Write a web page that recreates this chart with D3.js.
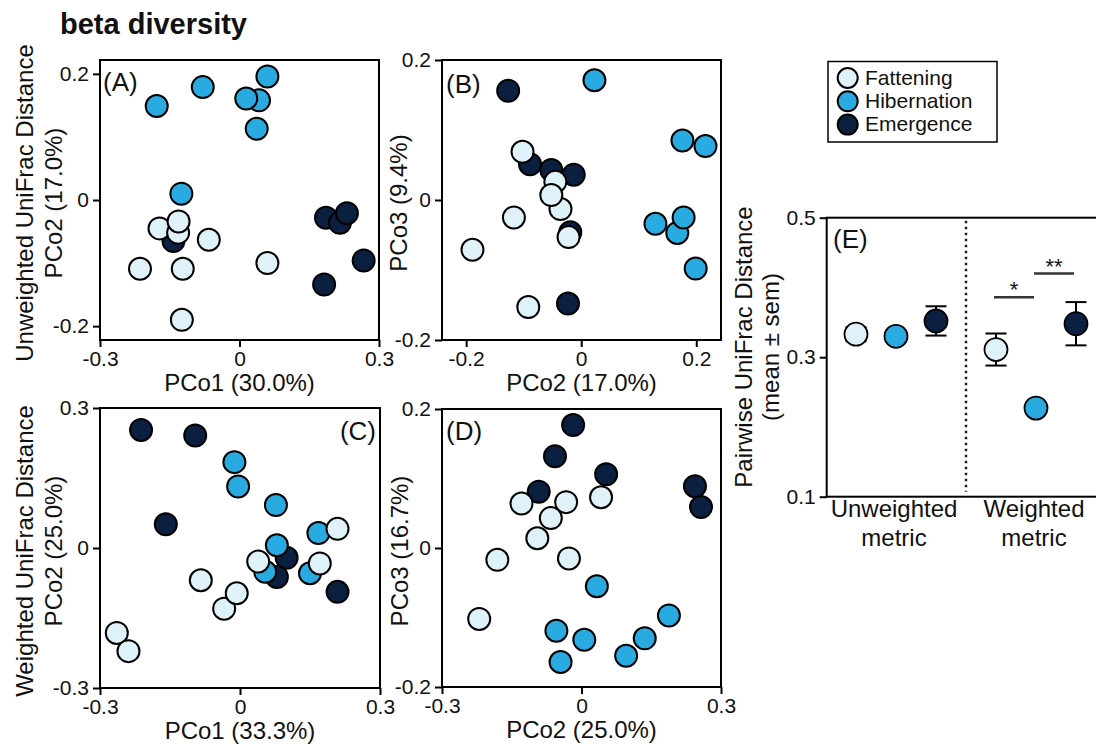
<!DOCTYPE html>
<html>
<head>
<meta charset="utf-8">
<script src="https://cdn.jsdelivr.net/npm/d3@7"></script>
<style>
  body { margin: 0; background: #fff; }
  svg text { font-family: "Liberation Sans", Arial, sans-serif; fill: #111; }
</style>
</head>
<body>
<div id="chart"></div>
<script>
// sampling phases
const phases = ["Fattening", "Hibernation", "Emergence"];

// (A) unweighted UniFrac, PCo1 vs PCo2  [x, y]
const aEmergence = [[-0.142, -0.065], [0.186, -0.028], [0.216, -0.036], [0.231, -0.021], [0.267, -0.096], [0.182, -0.134]];
const aHibernation = [[-0.178, 0.149], [-0.079, 0.179], [0.060, 0.196], [0.042, 0.158], [0.0145, 0.161], [0.037, 0.113], [-0.125, 0.010]];
const aFattening = [[-0.172, -0.045], [-0.132, -0.052], [-0.131, -0.034], [-0.066, -0.063], [-0.214, -0.109], [-0.122, -0.109], [-0.124, -0.190], [0.060, -0.100]];

// (B) unweighted UniFrac, PCo2 vs PCo3
const bEmergence = [[-0.127, 0.156], [-0.089, 0.051], [-0.052, 0.043], [-0.013, 0.036], [-0.019, -0.046], [-0.023, -0.148]];
const bHibernation = [[0.023, 0.171], [0.176, 0.085], [0.216, 0.077], [0.129, -0.034], [0.167, -0.047], [0.178, -0.025], [0.199, -0.098]];
const bFattening = [[-0.102, 0.069], [-0.045, 0.026], [-0.036, -0.013], [-0.052, 0.007], [-0.022, -0.053], [-0.117, -0.025], [-0.189, -0.071], [-0.092, -0.153]];

// (C) weighted UniFrac, PCo1 vs PCo2
const cEmergence = [[-0.212, 0.253], [-0.096, 0.241], [-0.159, 0.051], [0.100, -0.021], [0.079, -0.062], [0.209, -0.094]];
const cHibernation = [[-0.012, 0.184], [-0.004, 0.132], [0.077, 0.092], [0.054, -0.051], [0.079, 0.006], [0.168, 0.032], [0.150, -0.054]];
const cFattening = [[0.209, 0.041], [0.171, -0.033], [0.039, -0.029], [-0.084, -0.069], [-0.034, -0.130], [-0.007, -0.097], [-0.264, -0.182], [-0.239, -0.221]];

// (D) weighted UniFrac, PCo2 vs PCo3
const dEmergence = [[-0.018, 0.177], [-0.057, 0.132], [0.053, 0.106], [-0.092, 0.081], [0.244, 0.089], [0.257, 0.059]];
const dHibernation = [[0.033, -0.055], [0.188, -0.097], [-0.054, -0.119], [0.006, -0.132], [0.136, -0.130], [0.096, -0.155], [-0.045, -0.164]];
const dFattening = [[-0.129, 0.064], [-0.033, 0.066], [0.042, 0.073], [-0.066, 0.043], [-0.095, 0.014], [-0.027, -0.015], [-0.181, -0.017], [-0.220, -0.102]];

// (E) pairwise UniFrac distance, mean and sem per phase
const metrics = ["Unweighted metric", "Weighted metric"];
const unweightedMean = [0.333, 0.330, 0.352];
const unweightedSem = [0.010, 0.008, 0.021];
const weightedMean = [0.311, 0.227, 0.348];
const weightedSem = [0.023, 0.006, 0.031];
const sigBars = [
  { from: "Fattening", to: "Hibernation", y: 0.386, label: "*" },
  { from: "Hibernation", to: "Emergence", y: 0.420, label: "**" }
];

const colors = { Fattening: "#dff1f9", Hibernation: "#29abe2", Emergence: "#0b2040" };
const drawOrder = ["Emergence", "Hibernation", "Fattening"];

const svg = d3.select("#chart")
  .append("svg")
    .attr("width", 1096)
    .attr("height", 744);

svg.append("text")
  .attr("x", 60)
  .attr("y", 34)
  .style("font-size", "29px")
  .style("font-weight", "bold")
  .text("beta diversity");

const fmt = d => d === 0 ? "0" : d.toFixed(1);

const panels = [
  { tag: "(A)", tagX: 103, tagY: 91, anchor: "start",
    left: 100, top: 60, w: 279, h: 280,
    xDomain: [-0.3, 0.3], yDomain: [-0.222, 0.222],
    xTicks: [-0.3, 0, 0.3], yTicks: [-0.2, 0, 0.2],
    xLabel: "PCo1 (30.0%)", yLabel: ["Unweighted UniFrac Distance", "PCo2 (17.0%)"], yLabelX: [33, 62],
    series: { Emergence: aEmergence, Hibernation: aHibernation, Fattening: aFattening } },
  { tag: "(B)", tagX: 446, tagY: 93, anchor: "start",
    left: 442, top: 60, w: 279, h: 280,
    xDomain: [-0.242, 0.243], yDomain: [-0.2, 0.2],
    xTicks: [-0.2, 0, 0.2], yTicks: [-0.2, 0, 0.2],
    xLabel: "PCo2 (17.0%)", yLabel: ["PCo3 (9.4%)"], yLabelX: [407],
    series: { Emergence: bEmergence, Hibernation: bHibernation, Fattening: bFattening } },
  { tag: "(C)", tagX: 376, tagY: 440, anchor: "end",
    left: 100, top: 408, w: 280, h: 280,
    xDomain: [-0.3, 0.3], yDomain: [-0.3, 0.3],
    xTicks: [-0.3, 0, 0.3], yTicks: [-0.3, 0, 0.3],
    xLabel: "PCo1 (33.3%)", yLabel: ["Weighted UniFrac Distance", "PCo2 (25.0%)"], yLabelX: [33, 62],
    series: { Emergence: cEmergence, Hibernation: cHibernation, Fattening: cFattening } },
  { tag: "(D)", tagX: 446, tagY: 440, anchor: "start",
    left: 442, top: 409, w: 279, h: 278,
    xDomain: [-0.3, 0.3], yDomain: [-0.2, 0.2],
    xTicks: [-0.3, 0, 0.3], yTicks: [-0.2, 0, 0.2],
    xLabel: "PCo2 (25.0%)", yLabel: ["PCo3 (16.7%)"], yLabelX: [408],
    series: { Emergence: dEmergence, Hibernation: dHibernation, Fattening: dFattening } }
];

function styleAxis(g) {
  g.select(".domain").remove();
  g.selectAll(".tick line").attr("stroke", "#000").attr("stroke-width", 2);
  g.selectAll(".tick text").style("font-size", "21px").attr("fill", "#111");
}

function drawScatter(p) {
  const g = svg.append("g");
  const x = d3.scaleLinear().domain(p.xDomain).range([p.left, p.left + p.w]);
  const y = d3.scaleLinear().domain(p.yDomain).range([p.top + p.h, p.top]);

  g.append("g")
    .attr("transform", "translate(0," + (p.top + p.h) + ")")
    .call(d3.axisBottom(x).tickValues(p.xTicks).tickSize(7).tickPadding(4).tickFormat(fmt))
    .call(styleAxis);

  g.append("g")
    .attr("transform", "translate(" + p.left + ",0)")
    .call(d3.axisLeft(y).tickValues(p.yTicks).tickSize(7).tickPadding(4).tickFormat(fmt))
    .call(styleAxis);

  g.append("rect")
    .attr("x", p.left).attr("y", p.top)
    .attr("width", p.w).attr("height", p.h)
    .attr("fill", "none").attr("stroke", "#000").attr("stroke-width", 2);

  drawOrder.forEach(phase => {
    g.append("g")
      .selectAll("circle")
      .data(p.series[phase])
      .enter()
      .append("circle")
        .attr("cx", d => x(d[0]))
        .attr("cy", d => y(d[1]))
        .attr("r", 11)
        .attr("fill", colors[phase])
        .attr("stroke", "#000")
        .attr("stroke-width", 2);
  });

  g.append("text")
    .attr("x", p.tagX).attr("y", p.tagY)
    .attr("text-anchor", p.anchor)
    .style("font-size", "26px")
    .text(p.tag);

  g.append("text")
    .attr("x", p.left + p.w / 2)
    .attr("y", p.top + p.h + 51)
    .attr("text-anchor", "middle")
    .style("font-size", "24px")
    .text(p.xLabel);

  const cy = p.top + p.h / 2 + 3;
  p.yLabel.forEach((line, i) => {
    g.append("text")
      .attr("transform", "translate(" + p.yLabelX[i] + "," + cy + ") rotate(-90)")
      .attr("text-anchor", "middle")
      .style("font-size", "24px")
      .text(line);
  });
}

panels.forEach(drawScatter);

// Legend
const legend = svg.append("g");
legend.append("rect")
  .attr("x", 828).attr("y", 61.5)
  .attr("width", 169).attr("height", 80.5)
  .attr("fill", "#fff").attr("stroke", "#000").attr("stroke-width", 1.5);
phases.forEach((phase, i) => {
  const ly = 78 + i * 23.3;
  legend.append("circle")
    .attr("cx", 847.7).attr("cy", ly).attr("r", 10)
    .attr("fill", colors[phase]).attr("stroke", "#000").attr("stroke-width", 2);
  legend.append("text")
    .attr("x", 865).attr("y", ly + 6.5)
    .style("font-size", "21px")
    .text(phase);
});

// Panel E
const eLeft = 826.7, eTop = 217.7, eBottom = 496.7;
const ex = d3.scaleBand().domain(metrics).range([eLeft - 0.7, eLeft + 279.3]);
const phaseOffset = d3.scalePoint().domain(phases).range([-40, 40]);
const ey = d3.scaleLinear().domain([0.1, 0.5]).range([eBottom, eTop]);
const px = (metric, phase) => ex(metric) + ex.bandwidth() / 2 + phaseOffset(phase);

const eRows = [];
phases.forEach((phase, i) => {
  eRows.push({ metric: metrics[0], phase: phase, mean: unweightedMean[i], sem: unweightedSem[i] });
  eRows.push({ metric: metrics[1], phase: phase, mean: weightedMean[i], sem: weightedSem[i] });
});

const eg = svg.append("g");
eg.append("g")
  .attr("transform", "translate(" + eLeft + ",0)")
  .call(d3.axisLeft(ey).tickValues([0.1, 0.3, 0.5]).tickSize(7).tickPadding(4).tickFormat(d => d.toFixed(1)))
  .call(styleAxis);

eg.append("rect")
  .attr("x", eLeft).attr("y", eTop)
  .attr("width", 290).attr("height", eBottom - eTop)
  .attr("fill", "none").attr("stroke", "#000").attr("stroke-width", 2);

// divider between metrics
eg.append("line")
  .attr("x1", ex(metrics[1])).attr("x2", ex(metrics[1]))
  .attr("y1", eTop + 3).attr("y2", eBottom - 5)
  .attr("stroke", "#222").attr("stroke-width", 2.5)
  .attr("stroke-dasharray", "2.5,3.5");

eg.append("text")
  .attr("x", 833).attr("y", 248)
  .style("font-size", "26px")
  .text("(E)");

// error bars
const bars = eg.append("g").selectAll("g").data(eRows).enter().append("g");
bars.append("line")
  .attr("x1", d => px(d.metric, d.phase)).attr("x2", d => px(d.metric, d.phase))
  .attr("y1", d => ey(d.mean - d.sem)).attr("y2", d => ey(d.mean + d.sem))
  .attr("stroke", "#000").attr("stroke-width", 2);
[-1, 1].forEach(s => {
  bars.append("line")
    .attr("x1", d => px(d.metric, d.phase) - 10.5).attr("x2", d => px(d.metric, d.phase) + 10.5)
    .attr("y1", d => ey(d.mean + s * d.sem)).attr("y2", d => ey(d.mean + s * d.sem))
    .attr("stroke", "#000").attr("stroke-width", 2);
});
bars.append("circle")
  .attr("cx", d => px(d.metric, d.phase))
  .attr("cy", d => ey(d.mean))
  .attr("r", 11.5)
  .attr("fill", d => colors[d.phase])
  .attr("stroke", "#000").attr("stroke-width", 1.8);

// significance
sigBars.forEach(s => {
  const x1 = px(metrics[1], s.from) - 2, x2 = px(metrics[1], s.to) - 2;
  eg.append("line")
    .attr("x1", x1).attr("x2", x2)
    .attr("y1", ey(s.y)).attr("y2", ey(s.y))
    .attr("stroke", "#333").attr("stroke-width", 2.5);
  eg.append("text")
    .attr("x", (x1 + x2) / 2).attr("y", ey(s.y))
    .attr("text-anchor", "middle")
    .style("font-size", "22px")
    .attr("fill", "#333")
    .text(s.label);
});

// category labels
metrics.forEach(m => {
  const parts = m.split(" ");
  parts.forEach((t, i) => {
    eg.append("text")
      .attr("x", ex(m) + ex.bandwidth() / 2 - 2)
      .attr("y", 517 + i * 29)
      .attr("text-anchor", "middle")
      .style("font-size", "24px")
      .text(t);
  });
});

// y title E
[["Pairwise UniFrac Distance", 752], ["(mean \u00b1 sem)", 779]].forEach(l => {
  eg.append("text")
    .attr("transform", "translate(" + l[1] + ",347) rotate(-90)")
    .attr("text-anchor", "middle")
    .style("font-size", "24px")
    .text(l[0]);
});
</script>
</body>
</html>
